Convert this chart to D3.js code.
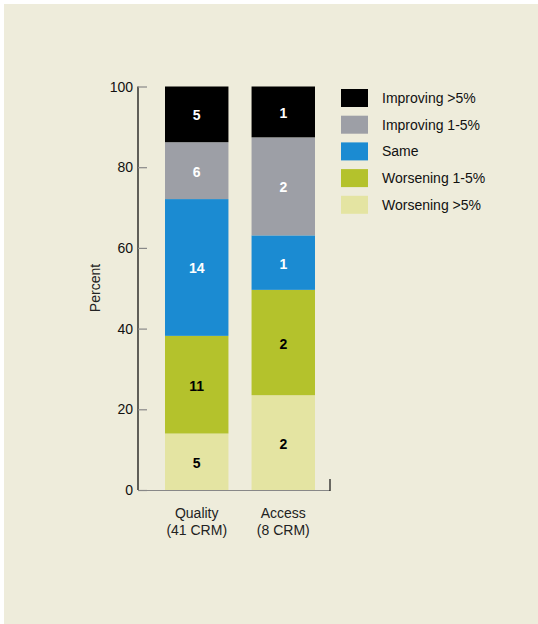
<!DOCTYPE html>
<html><head><meta charset="utf-8">
<script src="https://cdn.jsdelivr.net/npm/d3@7"></script>
<style>
html,body{margin:0;padding:0;background:#fff;}
svg{display:block;font-family:"Liberation Sans",Arial,sans-serif;}
</style></head>
<body>
<svg id="chart" width="538" height="624"></svg>
<script>
const categories = ["Quality", "Access"];
const categorySubLabels = ["(41 CRM)", "(8 CRM)"];
const seriesNames = ["Worsening >5%", "Worsening 1-5%", "Same", "Improving 1-5%", "Improving >5%"];
const seriesColors = ["#e4e4a2", "#b4c22c", "#1b8bd2", "#9d9fa6", "#000000"];
const labelColors = ["#000", "#000", "#fff", "#fff", "#fff"];
// percent heights per series (Quality, Access)
const worseningBig = [14.0, 23.5];
const worseningSmall = [24.2, 26.1];
const same = [33.9, 13.5];
const improvingSmall = [14.1, 24.3];
const improvingBig = [13.8, 12.6];
// counts shown inside segments
const countsWorseningBig = [5, 2];
const countsWorseningSmall = [11, 2];
const countsSame = [14, 1];
const countsImprovingSmall = [6, 2];
const countsImprovingBig = [5, 1];
const yTicks = [0, 20, 40, 60, 80, 100];

const seriesValues = [worseningBig, worseningSmall, same, improvingSmall, improvingBig];
const seriesCounts = [countsWorseningBig, countsWorseningSmall, countsSame, countsImprovingSmall, countsImprovingBig];

const svg = d3.select("#chart");
svg.append("rect").attr("x", 4).attr("y", 4).attr("width", 534).attr("height", 620).attr("fill", "#eeecdb");

const x0 = 138, yTop = 86.5, yBot = 490;
const y = d3.scaleLinear().domain([0, 100]).range([yBot, yTop]);
const x = d3.scaleBand().domain(categories).range([165, 315]).paddingInner(0.267).paddingOuter(0);

const table = categories.map((c, i) => {
  const row = {cat: c};
  seriesNames.forEach((s, j) => row[s] = seriesValues[j][i]);
  return row;
});
const stacked = d3.stack().keys(seriesNames)(table);

const g = svg.append("g");
stacked.forEach((layer, j) => {
  g.selectAll(null).data(layer).join("rect")
    .attr("x", d => x(d.data.cat))
    .attr("width", x.bandwidth())
    .attr("y", d => y(d[1]))
    .attr("height", d => y(d[0]) - y(d[1]))
    .attr("fill", seriesColors[j]);
  g.selectAll(null).data(layer).join("text")
    .attr("x", d => x(d.data.cat) + x.bandwidth() / 2)
    .attr("y", d => (y(d[0]) + y(d[1])) / 2 + 6)
    .attr("text-anchor", "middle")
    .attr("font-size", 14).attr("font-weight", "bold")
    .attr("fill", labelColors[j])
    .text((d, i) => seriesCounts[j][i]);
});

// Y axis
const yAxis = d3.axisRight(y).tickValues(yTicks).tickSize(9).tickPadding(0).tickFormat("");
const ya = svg.append("g").attr("transform", `translate(${x0},0)`).call(yAxis);
ya.select(".domain").attr("stroke", "#000").attr("stroke-width", 1.2).attr("d", `M0,${yTop}V${yBot}`);
ya.selectAll(".tick line").attr("stroke", "#888").attr("stroke-width", 1.2);
svg.append("g").selectAll("text").data(yTicks).join("text")
  .attr("x", 133).attr("y", d => y(d) + 5)
  .attr("text-anchor", "end").attr("font-size", 14).attr("fill", "#111")
  .text(d => d);

// X axis baseline
svg.append("line").attr("x1", x0).attr("x2", 330).attr("y1", yBot + 0.5).attr("y2", yBot + 0.5)
  .attr("stroke", "#888").attr("stroke-width", 1.2);
svg.append("line").attr("x1", 330).attr("x2", 330).attr("y1", 479).attr("y2", yBot + 1)
  .attr("stroke", "#111").attr("stroke-width", 1.2);

// Category labels
categories.forEach((c, i) => {
  const cx = x(c) + x.bandwidth() / 2;
  svg.append("text").attr("x", cx).attr("y", 518).attr("text-anchor", "middle")
    .attr("font-size", 14).attr("fill", "#222").text(c);
  svg.append("text").attr("x", cx).attr("y", 535).attr("text-anchor", "middle")
    .attr("font-size", 14).attr("fill", "#222").text(categorySubLabels[i]);
});

// Y label
svg.append("text").attr("transform", "translate(100,288) rotate(-90)")
  .attr("text-anchor", "middle").attr("font-size", 14).attr("fill", "#222").text("Percent");

// Legend (top to bottom: Improving >5% ... Worsening >5%)
const legendOrder = seriesNames.map((s, j) => j).reverse();
const lg = svg.append("g");
legendOrder.forEach((j, k) => {
  const ly = 89 + k * 26.7;
  lg.append("rect").attr("x", 341).attr("y", ly).attr("width", 27).attr("height", 18).attr("fill", seriesColors[j]);
  lg.append("text").attr("x", 382).attr("y", ly + 14).attr("font-size", 14).attr("fill", "#111").text(seriesNames[j]);
});
</script>
</body></html>
